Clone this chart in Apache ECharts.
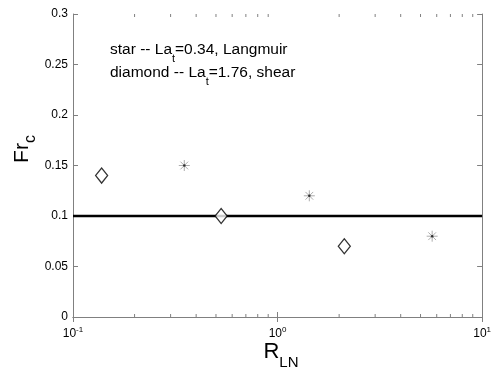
<!DOCTYPE html>
<html>
<head>
<meta charset="utf-8">
<script src="https://cdn.jsdelivr.net/npm/echarts@6/dist/echarts.min.js"></script>
<style>
html, body { margin: 0; padding: 0; background: #fff; }
#chart { width: 494px; height: 372px; }
</style>
</head>
<body>
<div id="chart"></div>
<script>
// data
var starR = [0.35, 1.43, 5.7];
var starFr = [0.15, 0.12, 0.08];
var diamondR = [0.138, 0.53, 2.12];
var diamondFr = [0.14, 0.10, 0.07];
var refR = [0.1, 10];
var refFr = [0.1, 0.1];
var minorTicksR = [0.2, 0.3, 0.4, 0.5, 0.6, 0.7, 0.8, 0.9, 2, 3, 4, 5, 6, 7, 8, 9];

var FONT = 'Liberation Sans, Arial, sans-serif';
var AXIS_GREY = '#808080';

function pairs(xs, ys) {
	var out = [];
	for (var i = 0; i < xs.length; i++) out.push([xs[i], ys[i]]);
	return out;
}

var starPath = 'path://M5 0L5 10M0 5L10 5M1.5 1.5L8.5 8.5M8.5 1.5L1.5 8.5';

var myChart = echarts.init(document.getElementById('chart'));

var xAxisBase = {
	type: 'log',
	logBase: 10,
	min: 0.1,
	max: 10,
	axisLine: { lineStyle: { color: AXIS_GREY, width: 1 } },
	axisTick: { inside: true, length: 5, lineStyle: { color: AXIS_GREY } },
	splitLine: { show: false }
};
var yAxisBase = {
	type: 'value',
	min: 0,
	max: 0.3,
	interval: 0.05,
	axisLine: { show: true, lineStyle: { color: AXIS_GREY, width: 1 } },
	axisTick: { show: true, inside: true, length: 5, lineStyle: { color: AXIS_GREY } },
	splitLine: { show: false }
};

var option = {
	animation: false,
	backgroundColor: '#fff',
	grid: { left: 73, right: 6, top: 14, bottom: 55 },
	xAxis: [
		echarts.util.merge({
			position: 'bottom',
			axisLabel: {
				margin: 9,
				fontFamily: FONT,
				formatter: function(v) {
					return '{b|10}{s|' + Math.round(Math.log10(v)) + '}';
				},
				rich: {
					b: { fontSize: 12, lineHeight: 14, verticalAlign: 'bottom', color: '#000', fontFamily: FONT },
					s: { fontSize: 8, lineHeight: 8, verticalAlign: 'top', color: '#000', fontFamily: FONT }
				}
			}
		}, xAxisBase, true),
		echarts.util.merge({
			position: 'top',
			axisLabel: { show: false }
		}, xAxisBase, true)
	],
	yAxis: [
		echarts.util.merge({
			position: 'left',
			axisLabel: {
				margin: 5,
				fontSize: 12,
				color: '#000',
				fontFamily: FONT,
				formatter: function(v) { return String(+v.toFixed(2)); }
			}
		}, yAxisBase, true),
		echarts.util.merge({
			position: 'right',
			axisLabel: { show: false }
		}, yAxisBase, true)
	],
	series: [{
		name: 'Fr = 0.1',
		type: 'line',
		data: pairs(refR, refFr),
		symbol: 'none',
		lineStyle: { color: '#000', width: 2.5 },
		z: 2
	}, {
		name: 'star',
		type: 'scatter',
		data: pairs(starR, starFr),
		symbol: starPath,
		symbolSize: 11,
		itemStyle: { color: 'transparent', borderColor: '#999', borderWidth: 1 },
		z: 3
	}, {
		name: 'star centre',
		type: 'scatter',
		data: pairs(starR, starFr),
		symbol: 'circle',
		symbolSize: 2.5,
		itemStyle: { color: '#111' },
		z: 4
	}, {
		name: 'diamond',
		type: 'scatter',
		data: pairs(diamondR, diamondFr),
		symbol: 'diamond',
		symbolSize: [12, 15],
		itemStyle: { color: '#fff', borderColor: '#000', borderWidth: 1.3 },
		z: 5
	}],
	graphic: [{
		id: 'note1',
		type: 'text',
		left: 110,
		top: 42,
		style: {
			text: '{a|star -- La}{t|t}{a|=0.34, Langmuir}',
			rich: {
				a: { fontSize: 15.5, lineHeight: 18, verticalAlign: 'top', fontFamily: FONT, fill: '#000' },
				t: { fontSize: 11, lineHeight: 11, padding: [11, 0, 0, 0], verticalAlign: 'top', fontFamily: FONT, fill: '#000' }
			}
		}
	}, {
		id: 'note2',
		type: 'text',
		left: 110,
		top: 65,
		style: {
			text: '{a|diamond -- La}{t|t}{a|=1.76, shear}',
			rich: {
				a: { fontSize: 15.5, lineHeight: 18, verticalAlign: 'top', fontFamily: FONT, fill: '#000' },
				t: { fontSize: 11, lineHeight: 11, padding: [11, 0, 0, 0], verticalAlign: 'top', fontFamily: FONT, fill: '#000' }
			}
		}
	}, {
		id: 'xname',
		type: 'text',
		x: 281,
		y: 341,
		style: {
			text: '{a|R}{s|LN}',
			align: 'center',
			verticalAlign: 'top',
			rich: {
				a: { fontSize: 22, lineHeight: 22, verticalAlign: 'top', fontFamily: FONT, fill: '#000' },
				s: { fontSize: 15, lineHeight: 15, padding: [14, 0, 0, 0], verticalAlign: 'top', fontFamily: FONT, fill: '#000' }
			}
		}
	}, {
		id: 'yname',
		type: 'text',
		x: 22,
		y: 149,
		rotation: Math.PI / 2,
		style: {
			text: '{a|Fr}{s|c}',
			align: 'center',
			verticalAlign: 'middle',
			rich: {
				a: { fontSize: 21, lineHeight: 21, verticalAlign: 'top', fontFamily: FONT, fill: '#000' },
				s: { fontSize: 16, lineHeight: 16, padding: [11, 0, 0, 0], verticalAlign: 'top', fontFamily: FONT, fill: '#000' }
			}
		}
	}]
};

myChart.setOption(option);

// minor ticks of the log axes (bottom and top), placed through the axis scale
var yBottom = myChart.convertToPixel({ yAxisIndex: 0 }, 0);
var yTop = myChart.convertToPixel({ yAxisIndex: 0 }, 0.3);
var ticks = [];
minorTicksR.forEach(function(v, i) {
	var px = myChart.convertToPixel({ xAxisIndex: 0 }, v);
	ticks.push({
		id: 'mb' + i, type: 'line', silent: true,
		shape: { x1: px, y1: yBottom, x2: px, y2: yBottom - 3 },
		style: { stroke: AXIS_GREY, lineWidth: 1 }
	});
	ticks.push({
		id: 'mt' + i, type: 'line', silent: true,
		shape: { x1: px, y1: yTop, x2: px, y2: yTop + 3 },
		style: { stroke: AXIS_GREY, lineWidth: 1 }
	});
});
myChart.setOption({ graphic: ticks });
</script>
</body>
</html>
